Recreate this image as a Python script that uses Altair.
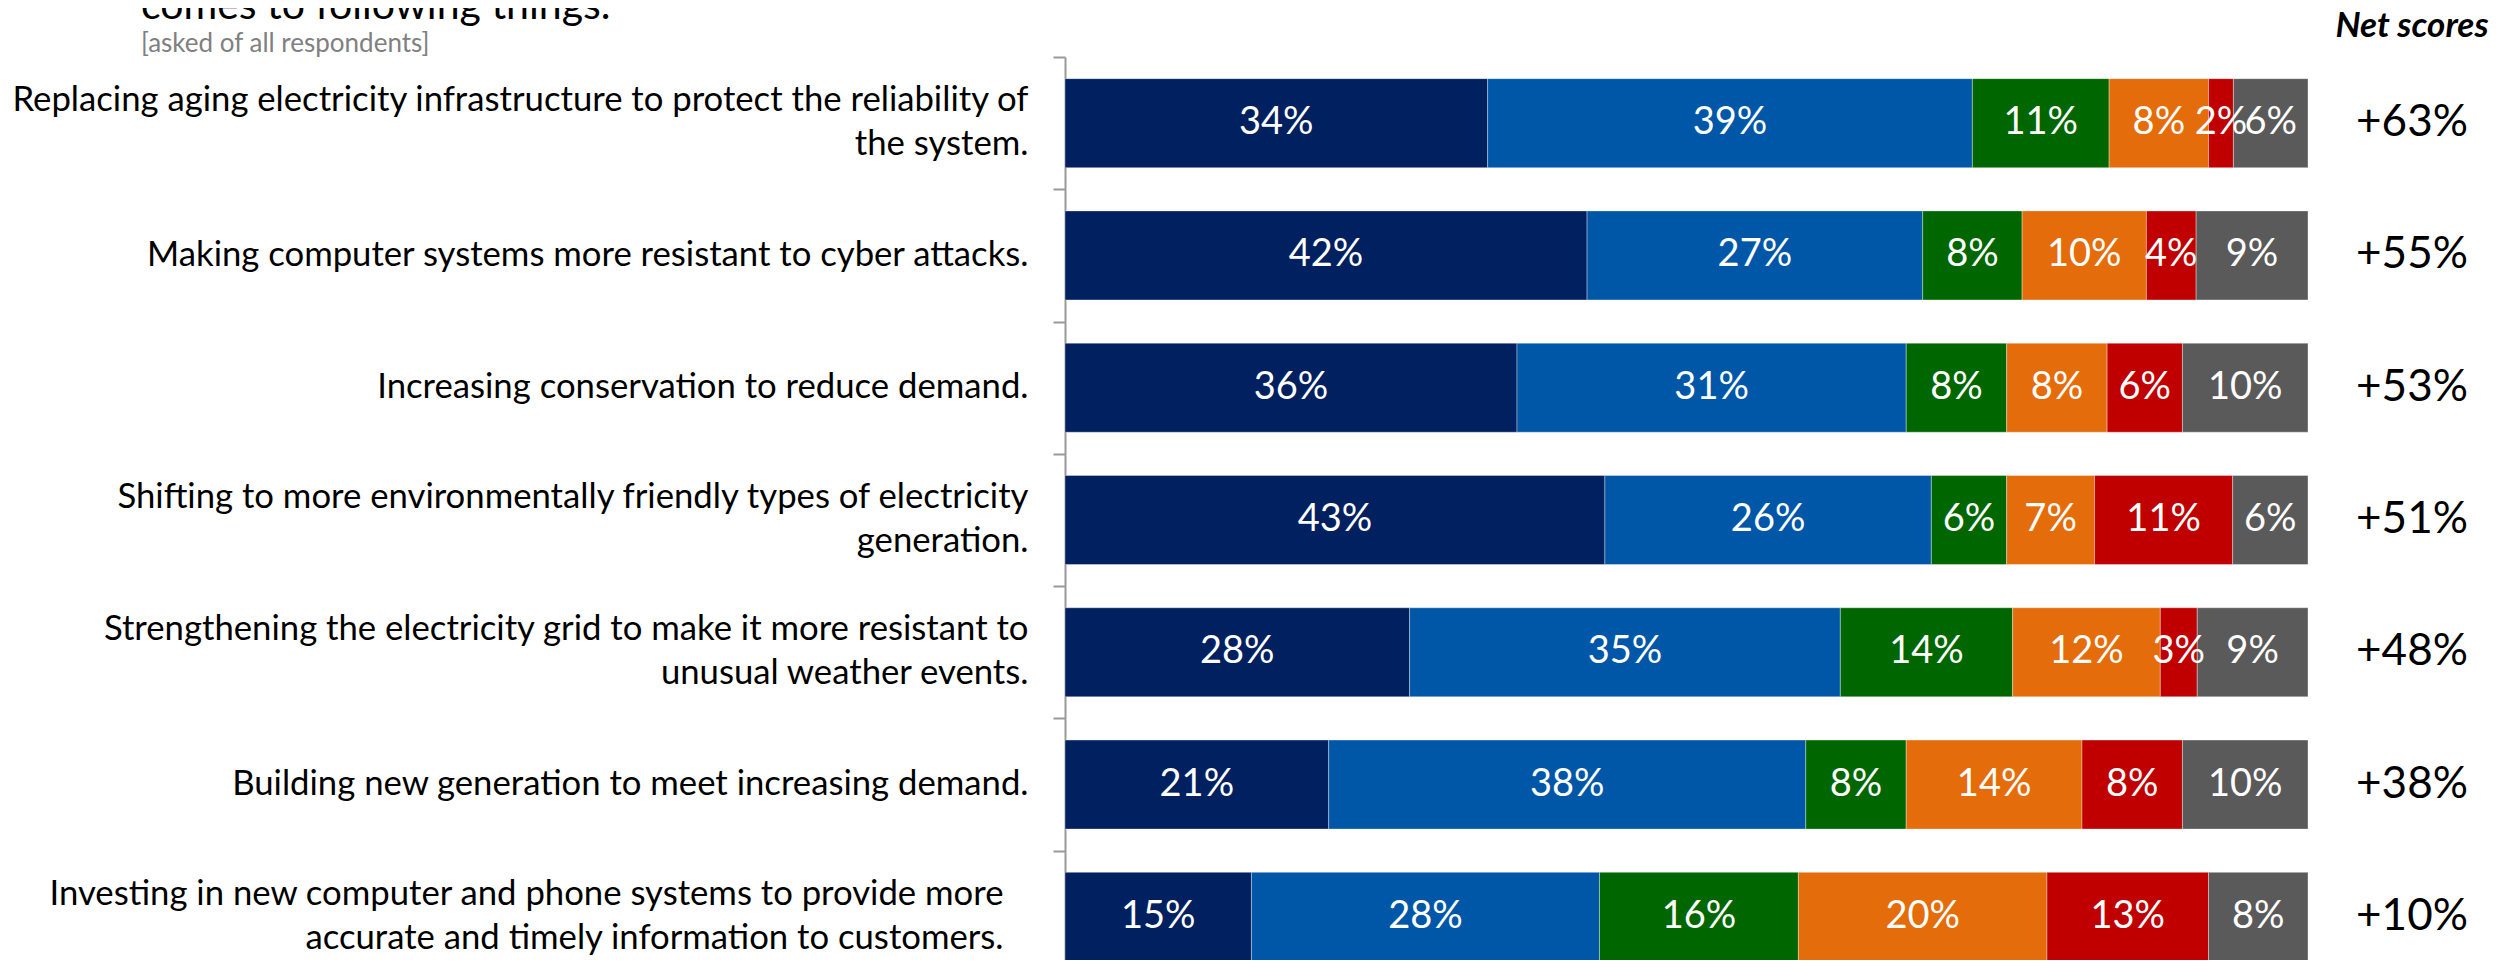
import altair as alt
import pandas as pd

categories = [
    "Replacing aging electricity infrastructure to protect the reliability of|the system.",
    "Making computer systems more resistant to cyber attacks.",
    "Increasing conservation to reduce demand.",
    "Shifting to more environmentally friendly types of electricity|generation.",
    "Strengthening the electricity grid to make it more resistant to|unusual weather events.",
    "Building new generation to meet increasing demand.",
    "Investing in new computer and phone systems to provide more|accurate and timely information to customers.",
]
series_names = ["Strongly support", "Somewhat support", "Neutral",
                "Somewhat oppose", "Strongly oppose", "Don't know"]
series_colors = ["#00205F", "#0057A8", "#006600", "#E46C0A", "#C00000", "#5A5A5A"]

strongly_support = [34, 42, 36, 43, 28, 21, 15]
somewhat_support = [39, 27, 31, 26, 35, 38, 28]
neutral = [11, 8, 8, 6, 14, 8, 16]
somewhat_oppose = [8, 10, 8, 7, 12, 14, 20]
strongly_oppose = [2, 4, 6, 11, 3, 8, 13]
dont_know = [6, 9, 10, 6, 9, 10, 8]
net_scores = ["+63%", "+55%", "+53%", "+51%", "+48%", "+38%", "+10%"]

title_line = "comes to following things."
subtitle_line = "[asked of all respondents]"
net_header = "Net scores"

series_values = [strongly_support, somewhat_support, neutral,
                 somewhat_oppose, strongly_oppose, dont_know]
rows = []
for si, (name, vals) in enumerate(zip(series_names, series_values)):
    for cat, v in zip(categories, vals):
        rows.append({"cat": cat, "series": name, "order": si, "value": v})
df = pd.DataFrame(rows)
net_df = pd.DataFrame({"cat": categories, "net": net_scores})

FONT = "Lato"
STEP = 926 / 7.0
PAD_INNER = 0.327
HALF_GAP = PAD_INNER * STEP / 2
LINE_H = 44

yscale = alt.Scale(domain=categories, paddingInner=PAD_INNER, paddingOuter=PAD_INNER / 2, range=[0, 926])
yaxis = alt.Axis(
    title=None,
    labelExpr="split(datum.label, '|')",
    labelFont=FONT, labelFontSize=34.7, labelColor="black",
    labelLineHeight=LINE_H, labelLimit=1300,
    labelAlign="right", labelBaseline="middle",
    labelPadding={"condition": {"test": "indexof(datum.value, 'Investing') == 0", "value": 50}, "value": 25},
    labelOffset={"condition": {"test": "indexof(datum.value, '|') >= 0", "value": HALF_GAP - 22.4},
                 "value": HALF_GAP},
    bandPosition=0,
    tickOffset=-HALF_GAP,
    tickSize=12, tickColor="#999999", tickWidth=2,
    domainColor="#999999", domainWidth=2,
    grid=False,
)

base = alt.Chart(df).transform_stack(
    stack="value", groupby=["cat"], sort=[alt.SortField("order")],
    as_=["x0", "x1"], offset="normalize",
).transform_calculate(
    mid="(datum.x0 + datum.x1) / 2",
    lbl="datum.value + '%'",
)

xscale = alt.Scale(domain=[0, 1], nice=False, zero=False)

bars = base.mark_bar(stroke="white", strokeOpacity=0.35, strokeWidth=1).encode(
    y=alt.Y("cat:N", sort=categories, scale=yscale, axis=yaxis),
    x=alt.X("x0:Q", scale=xscale, axis=None),
    x2="x1:Q",
    color=alt.Color("series:N", scale=alt.Scale(domain=series_names, range=series_colors), legend=None),
)

seg_labels = base.mark_text(font=FONT, fontSize=38, color="white", align="center", baseline="middle").encode(
    y=alt.Y("cat:N", sort=categories),
    x=alt.X("mid:Q", scale=xscale),
    text="lbl:N",
)

net = alt.Chart(net_df).mark_text(font=FONT, fontSize=44, color="black", align="center", baseline="middle").encode(
    y=alt.Y("cat:N", sort=categories),
    x=alt.value(1347),
    text="net:N",
)

header = alt.Chart(pd.DataFrame({"t": [net_header]})).mark_text(
    font=FONT, fontSize=35, fontWeight="bold", fontStyle="italic", color="black",
    align="center", baseline="alphabetic",
).encode(x=alt.value(1347), y=alt.value(-20), text="t:N")

title = alt.Chart(pd.DataFrame({"t": [title_line]})).mark_text(
    font=FONT, fontSize=41, color="black", align="left", baseline="alphabetic",
).encode(x=alt.value(-924), y=alt.value(-38), text="t:N")

subtitle = alt.Chart(pd.DataFrame({"t": [subtitle_line]})).mark_text(
    font=FONT, fontSize=26, color="#808080", align="left", baseline="alphabetic",
).encode(x=alt.value(-924), y=alt.value(-5), text="t:N")

chart = alt.layer(bars, seg_labels, net, header, title, subtitle).properties(
    width=1243, height=903,
    autosize=alt.AutoSizeParams(type="none"),
    padding={"left": 1057, "top": 49, "right": 191, "bottom": 0},
).configure_view(stroke=None)

chart.save("out.html", embed_options={"renderer": "svg", "actions": False})
